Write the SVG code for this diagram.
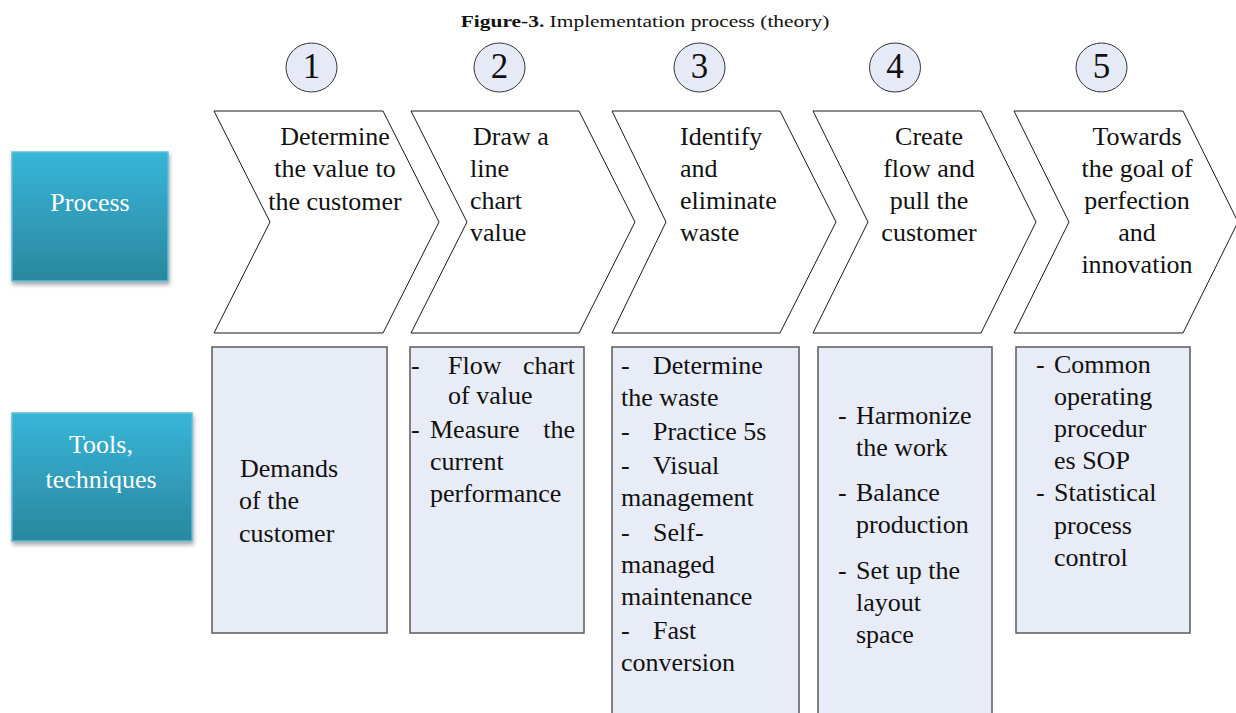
<svg xmlns="http://www.w3.org/2000/svg" width="1236" height="713" viewBox="0 0 1236 713">
<style>
  text { font-family: "Liberation Serif", "Times New Roman", serif; fill: #111; }
  .t26 { font-size: 26px; }
  .num { font-size: 35px; text-anchor: middle; }
  .mid { text-anchor: middle; }
  .end { text-anchor: end; }
  .chev { fill: #ffffff; stroke: #1a1a1a; stroke-width: 1; }
  .box { fill: #e8ecf7; stroke: #5a5a5a; stroke-width: 1.5; }
  .circ { fill: #e6eaf6; stroke: #333; stroke-width: 1; }
  .label { fill: url(#blueGrad); stroke: #5dbcd8; stroke-width: 1.5; filter: url(#shadow); }
  .wt { fill: #ffffff; font-size: 26px; text-anchor: middle; }
</style>
<defs>
  <linearGradient id="blueGrad" x1="0" y1="0" x2="0" y2="1">
    <stop offset="0" stop-color="#38b5d8"/>
    <stop offset="1" stop-color="#2a879f"/>
  </linearGradient>
  <filter id="shadow" x="-10%" y="-10%" width="130%" height="130%">
    <feDropShadow dx="1" dy="3" stdDeviation="2" flood-color="#000" flood-opacity="0.35"/>
  </filter>
</defs>
<rect width="1236" height="713" fill="#ffffff"/>

<g id="title">
  <text transform="translate(645,27) scale(1.34,1)" text-anchor="middle" style="font-size:16px"><tspan font-weight="bold">Figure-3.</tspan> Implementation process (theory)</text>
</g>

<g id="label-process">
  <rect class="label" x="12" y="152" width="156" height="129"/>
  <text class="wt" x="90" y="211">Process</text>
</g>
<g id="label-tools">
  <rect class="label" x="12" y="413" width="180" height="128"/>
  <text class="wt" x="101" y="453">Tools,</text>
  <text class="wt" x="101" y="488">techniques</text>
</g>

<g id="step-numbers">
  <g id="num1"><ellipse class="circ" cx="311.5" cy="67.5" rx="25.5" ry="24.5"/><text class="num" x="311.5" y="78">1</text></g>
  <g id="num2"><ellipse class="circ" cx="499.5" cy="67.5" rx="25.5" ry="24.5"/><text class="num" x="499.5" y="78">2</text></g>
  <g id="num3"><ellipse class="circ" cx="699.5" cy="67.5" rx="25.5" ry="24.5"/><text class="num" x="699.5" y="78">3</text></g>
  <g id="num4"><ellipse class="circ" cx="895" cy="67.5" rx="25.5" ry="24.5"/><text class="num" x="895" y="78">4</text></g>
  <g id="num5"><ellipse class="circ" cx="1101.5" cy="67.5" rx="25.5" ry="24.5"/><text class="num" x="1101.5" y="78">5</text></g>
</g>

<g id="process-1">
  <polygon class="chev" points="214,111 383,111 439,222 383,333 214,333 270,222"/>
  <text class="t26 mid"><tspan x="335" y="145">Determine</tspan><tspan x="335" y="177">the value to</tspan><tspan x="335" y="210">the customer</tspan></text>
</g>
<g id="process-2">
  <polygon class="chev" points="411,111 579,111 635,222 579,333 411,333 467,222"/>
  <text class="t26"><tspan x="473" y="145">Draw a</tspan><tspan x="470" y="177">line</tspan><tspan x="470" y="209">chart</tspan><tspan x="470" y="241">value</tspan></text>
</g>
<g id="process-3">
  <polygon class="chev" points="612,111 780,111 836,222 780,333 612,333 666,222"/>
  <text class="t26"><tspan x="680" y="145">Identify</tspan><tspan x="680" y="177">and</tspan><tspan x="680" y="209">eliminate</tspan><tspan x="680" y="241">waste</tspan></text>
</g>
<g id="process-4">
  <polygon class="chev" points="813,111 981,111 1036,222 981,333 813,333 868,222"/>
  <text class="t26 mid"><tspan x="929" y="145">Create</tspan><tspan x="929" y="177">flow and</tspan><tspan x="929" y="209">pull the</tspan><tspan x="929" y="241">customer</tspan></text>
</g>
<g id="process-5">
  <polygon class="chev" points="1014,111 1183,111 1238,222 1183,333 1014,333 1069,222"/>
  <text class="t26 mid"><tspan x="1137" y="145">Towards</tspan><tspan x="1137" y="177">the goal of</tspan><tspan x="1137" y="209">perfection</tspan><tspan x="1137" y="241">and</tspan><tspan x="1137" y="273">innovation</tspan></text>
</g>

<g id="tools-1">
  <rect class="box" x="212" y="347" width="175" height="286"/>
  <text class="t26"><tspan x="240" y="477">Demands</tspan><tspan x="239" y="509">of the</tspan><tspan x="239" y="542">customer</tspan></text>
</g>
<g id="tools-2">
  <rect class="box" x="410" y="347" width="174" height="286"/>
  <text class="t26"><tspan x="411" y="374">-</tspan><tspan x="448" y="374">Flow</tspan></text>
  <text class="t26 end" x="575" y="374">chart</text>
  <text class="t26" x="448" y="404">of value</text>
  <text class="t26"><tspan x="411" y="438">-</tspan><tspan x="430" y="438">Measure</tspan></text>
  <text class="t26 end" x="575" y="438">the</text>
  <text class="t26"><tspan x="430" y="470">current</tspan><tspan x="430" y="502">performance</tspan></text>
</g>
<g id="tools-3">
  <rect class="box" x="612" y="347" width="187" height="380"/>
  <text class="t26">
    <tspan x="621" y="374">-</tspan><tspan x="653" y="374">Determine</tspan>
    <tspan x="621" y="406">the waste</tspan>
    <tspan x="621" y="440">-</tspan><tspan x="653" y="440">Practice 5s</tspan>
    <tspan x="621" y="474">-</tspan><tspan x="653" y="474">Visual</tspan>
    <tspan x="621" y="506">management</tspan>
    <tspan x="621" y="541">-</tspan><tspan x="653" y="541">Self-</tspan>
    <tspan x="621" y="573">managed</tspan>
    <tspan x="621" y="605">maintenance</tspan>
    <tspan x="621" y="639">-</tspan><tspan x="653" y="639">Fast</tspan>
    <tspan x="621" y="671">conversion</tspan>
  </text>
</g>
<g id="tools-4">
  <rect class="box" x="818" y="347" width="174" height="380"/>
  <text class="t26">
    <tspan x="838" y="424">-</tspan><tspan x="856" y="424">Harmonize</tspan>
    <tspan x="856" y="456">the work</tspan>
    <tspan x="838" y="501">-</tspan><tspan x="856" y="501">Balance</tspan>
    <tspan x="856" y="533">production</tspan>
    <tspan x="838" y="579">-</tspan><tspan x="856" y="579">Set up the</tspan>
    <tspan x="856" y="611">layout</tspan>
    <tspan x="856" y="643">space</tspan>
  </text>
</g>
<g id="tools-5">
  <rect class="box" x="1016" y="347" width="174" height="286"/>
  <text class="t26">
    <tspan x="1036" y="373">-</tspan><tspan x="1054" y="373">Common</tspan>
    <tspan x="1054" y="405">operating</tspan>
    <tspan x="1054" y="437">procedur</tspan>
    <tspan x="1054" y="469">es SOP</tspan>
    <tspan x="1036" y="501">-</tspan><tspan x="1054" y="501">Statistical</tspan>
    <tspan x="1054" y="534">process</tspan>
    <tspan x="1054" y="566">control</tspan>
  </text>
</g>

<g id="connectors"></g>
</svg>
